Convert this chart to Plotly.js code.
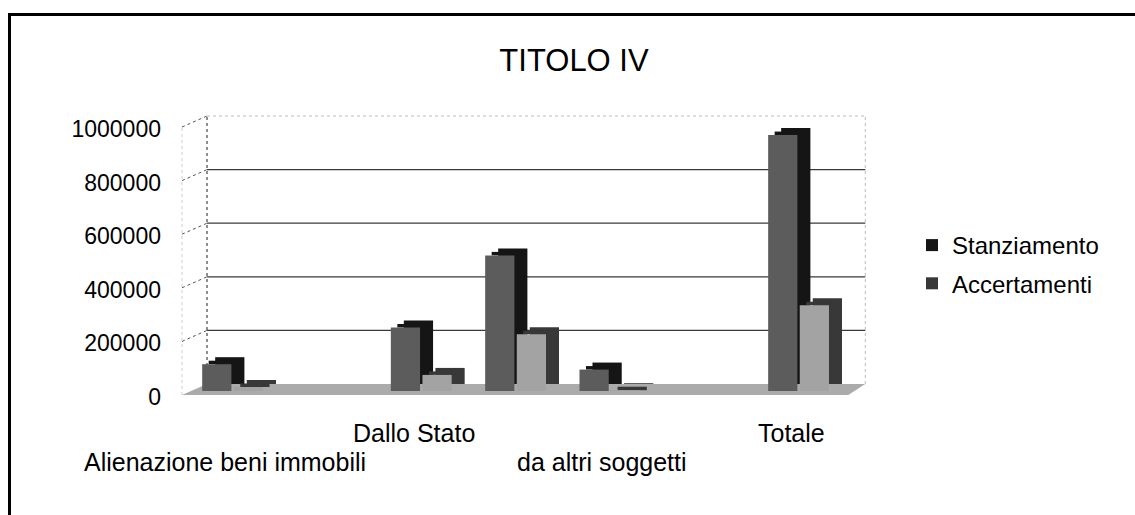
<!DOCTYPE html>
<html>
<head>
<meta charset="utf-8">
<script src="https://cdn.plot.ly/plotly-3.0.1.min.js"></script>
<style>
  html, body { margin: 0; padding: 0; background: #fff; }
  #wrap { position: relative; width: 1135px; height: 515px; overflow: hidden; }
  #chart { position: absolute; left: 0; top: 0; width: 1135px; height: 515px; }
  #frame { position: absolute; left: 8px; top: 13px; right: -10px; bottom: -10px;
           border-top: 3px solid #000; border-left: 3px solid #000; pointer-events: none; }
</style>
</head>
<body>
<div id="wrap">
  <div id="chart"></div>
  <div id="frame"></div>
</div>
<script>
// ---- data ----
const categories = ["Alienazione beni immobili", "", "Dallo Stato", "", "da altri soggetti", "", "Totale"];
const seriesNames = ["Stanziamento", "Accertamenti"];
const stanziamento = [100000, 0, 237000, 506000, 80000, 0, 955000];
const accertamenti = [15000, 0, 60000, 212000, 3000, 0, 320000];
const yTicks = [0, 200000, 400000, 600000, 800000, 1000000];
const titleText = "TITOLO IV";

// ---- layout constants (pixels) ----
const W = 1135, H = 515;
const catPx = 94.33;                 // width of one category
const plotLeft = 180, plotRight = 872;
const zeroPx = 391, pxPerMillion = 268;
const plotTop = 112, plotBottom = 399;
const unitsPerPx = 1000000 / pxPerMillion;
const depthX = 13, depthY = 7;       // 3D side/top depth of bars
const wallX = 27, wallY = 7;         // back wall offset
const nCat = categories.length;
const FONT = "Arial, 'Liberation Sans', sans-serif";

const xRange = [-0.5, -0.5 + (plotRight - plotLeft) / catPx];
const yRange = [-(plotBottom - zeroPx) * unitsPerPx, (zeroPx - plotTop) * unitsPerPx];

const idx = categories.map((_, i) => i);
const barW = 0.31;

function frontTrace(vals, name, color, off) {
  return { type: "bar", x: idx, y: vals, name: name, legendgroup: name, showlegend: false,
           width: barW, offset: off, marker: { color: color, line: { width: 0 } },
           hoverinfo: "skip" };
}
function sideTrace(vals, name, color, off) {
  return { type: "bar", x: idx, y: vals, name: name, legendgroup: name, showlegend: true,
           base: vals.map(() => depthY * unitsPerPx),
           width: barW, offset: off + depthX / catPx,
           marker: { color: color, line: { width: 0 } }, hoverinfo: "skip" };
}
function topTrace(vals, name, color, off) {
  return { type: "bar", x: idx, y: vals.map(v => v > 0 ? depthY * unitsPerPx * 0.5 : 0),
           base: vals, name: name, legendgroup: name, showlegend: false,
           width: barW, offset: off + depthX / 2 / catPx,
           marker: { color: color, line: { width: 0 } }, hoverinfo: "skip" };
}

const offS = -0.265, offA = 0.07;
const data = [
  sideTrace(stanziamento, seriesNames[0], "#151515", offS),
  topTrace(stanziamento, seriesNames[0], "#151515", offS),
  frontTrace(stanziamento, seriesNames[0], "#5c5c5c", offS),
  sideTrace(accertamenti, seriesNames[1], "#383838", offA),
  topTrace(accertamenti, seriesNames[1], "#383838", offA),
  frontTrace(accertamenti, seriesNames[1], "#a3a3a3", offA)
];

// ---- decorative 3D wall / floor ----
const wallRight = nCat * catPx + 25;
const shapes = [];
shapes.push({ type: "path", layer: "between",
  xref: "x", xsizemode: "pixel", xanchor: -0.5,
  yref: "y", ysizemode: "pixel", yanchor: 0,
  path: `M 2,-4 L ${nCat * catPx + 8},-4 L ${wallRight},${wallY} L ${wallX},${wallY} Z`,
  fillcolor: "#ababab", line: { width: 0 } });
yTicks.forEach(t => {
  if (t === 0) return;
  const top = t === yTicks[yTicks.length - 1];
  shapes.push({ type: "line", layer: "below",
    xref: "x", xsizemode: "pixel", xanchor: -0.5, x0: wallX, x1: wallRight,
    yref: "y", ysizemode: "pixel", yanchor: t, y0: wallY, y1: wallY,
    line: { color: top ? "#bdbdbd" : "#3a3a3a", width: top ? 1 : 1.2, dash: top ? "dot" : "solid" } });
  shapes.push({ type: "line", layer: "below",
    xref: "x", xsizemode: "pixel", xanchor: -0.5, x0: 2, x1: wallX,
    yref: "y", ysizemode: "pixel", yanchor: t, y0: -4, y1: wallY,
    line: { color: "#555", width: 1, dash: "dot" } });
});
shapes.push({ type: "line", layer: "below",
  xref: "x", xsizemode: "pixel", xanchor: -0.5, x0: wallX, x1: wallX,
  yref: "y", ysizemode: "pixel", yanchor: 0, y0: wallY, y1: pxPerMillion + wallY,
  line: { color: "#444", width: 1.2, dash: "dot" } });
shapes.push({ type: "line", layer: "below",
  xref: "x", xsizemode: "pixel", xanchor: -0.5, x0: wallRight, x1: wallRight,
  yref: "y", ysizemode: "pixel", yanchor: 0, y0: wallY, y1: pxPerMillion + wallY,
  line: { color: "#bbb", width: 1, dash: "dot" } });
shapes.push({ type: "line", layer: "below",
  xref: "x", xsizemode: "pixel", xanchor: -0.5, x0: 2, x1: 2,
  yref: "y", ysizemode: "pixel", yanchor: 0, y0: -4, y1: pxPerMillion - 2,
  line: { color: "#cfcfcf", width: 1, dash: "dot" } });

// ---- category labels, staggered on two rows ----
const annotations = [];
categories.forEach((c, i) => {
  if (!c) return;
  const lower = (i / 2) % 2 === 0;
  annotations.push({ x: i, xref: "x", y: 0, yref: "y", yshift: lower ? -71 : -42,
    yanchor: "middle", xanchor: "center", xshift: -2, showarrow: false, text: c,
    font: { family: FONT, size: 25, color: "#000" } });
});

const layout = {
  width: W, height: H,
  margin: { l: plotLeft, r: W - plotRight, t: plotTop, b: H - plotBottom, pad: 0 },
  paper_bgcolor: "#fff", plot_bgcolor: "rgba(0,0,0,0)",
  barmode: "overlay",
  font: { family: FONT, color: "#000" },
  title: { text: titleText, font: { family: FONT, size: 31, color: "#000" },
           xref: "container", yref: "container", x: 574 / W, y: 1 - 60 / H,
           xanchor: "center", yanchor: "middle" },
  xaxis: { range: xRange, showgrid: false, zeroline: false,
           showline: false, showticklabels: false, ticks: "", fixedrange: true },
  yaxis: { range: yRange, tickvals: yTicks, ticktext: yTicks.map(String),
           showgrid: false, zeroline: false, showline: false, ticks: "",
           ticklabelstandoff: 18, ticklabelshift: 6,
           tickfont: { family: FONT, size: 23, color: "#000" }, fixedrange: true },
  legend: { xref: "container", yref: "container", x: 912 / W, y: 1 - 223 / H,
            xanchor: "left", yanchor: "top", bgcolor: "rgba(0,0,0,0)",
            font: { family: FONT, size: 24, color: "#000" },
            traceorder: "grouped", tracegroupgap: 4, itemwidth: 30 },
  shapes: shapes,
  annotations: annotations,
  showlegend: true
};

Plotly.newPlot("chart", data, layout, { displayModeBar: false, staticPlot: true });
</script>
</body>
</html>
